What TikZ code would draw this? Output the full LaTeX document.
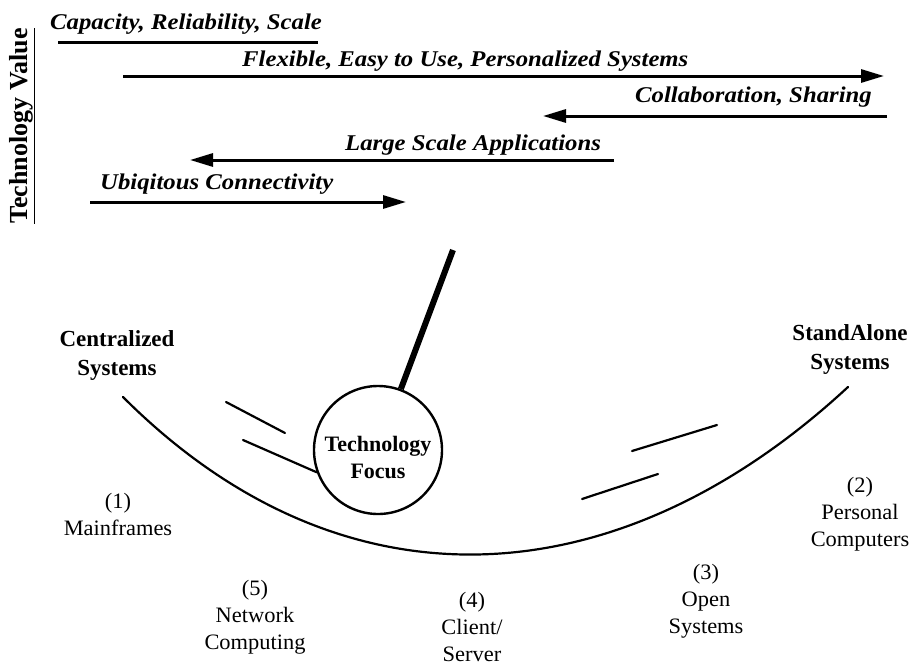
\documentclass[tikz,border=0pt]{standalone}
\usepackage{fontspec}
\setmainfont{Liberation Serif}
\newfontfamily\wideserif[FakeStretch=1.1]{Liberation Serif}
\newfontfamily\eraserif[FakeStretch=1.02]{Liberation Serif}
\usetikzlibrary{arrows.meta}
\begin{document}
\begin{tikzpicture}[x=1pt,y=-1pt,
  toplabel/.style={font=\wideserif\bfseries\itshape\fontsize{22.5}{27}\selectfont, inner sep=0pt},
  boldlabel/.style={font=\bfseries\fontsize{23}{29}\selectfont, align=center, inner sep=0pt},
  eralabel/.style={font=\eraserif\fontsize{22}{27}\selectfont, align=center, inner sep=0pt},
  focustext/.style={font=\bfseries\fontsize{22}{27}\selectfont, align=center, inner sep=0pt},
  trendline/.style={line width=3pt},
  trendarrow/.style={line width=3pt, -{Triangle[length=23pt,width=13pt]}},
  stroke/.style={line width=2.2pt, line cap=round},
]
\useasboundingbox (0,0) rectangle (913,667);

% vertical axis label
\node[rotate=90, font=\bfseries\fontsize{26}{30}\selectfont, inner sep=0pt] (tv) at (22,126) {\underline{Technology Value}};

% trend labels and arrows
\node[toplabel, anchor=base west] (cap) at (50,29) {Capacity, Reliability, Scale};
\coordinate (capL) at (58,42); \coordinate (capR) at (318,42);
\draw[trendline] (capL) -- (capR);

\node[toplabel, anchor=base west] (flex) at (242,66) {Flexible, Easy to Use, Personalized Systems};
\coordinate (flexL) at (123,76); \coordinate (flexR) at (884,76);
\draw[trendarrow] (flexL) -- (flexR);

\node[toplabel, anchor=base east] (coll) at (872,102) {Collaboration, Sharing};
\coordinate (collR) at (887,116); \coordinate (collL) at (543,116);
\draw[trendarrow] (collR) -- (collL);

\node[toplabel, anchor=base west] (large) at (345,150) {Large Scale Applications};
\coordinate (largeR) at (614,160); \coordinate (largeL) at (190,160);
\draw[trendarrow] (largeR) -- (largeL);

\node[toplabel, anchor=base west] (ubiq) at (100,189) {Ubiqitous Connectivity};
\coordinate (ubiqL) at (90,202); \coordinate (ubiqR) at (406,202);
\draw[trendarrow] (ubiqL) -- (ubiqR);

% technology focus (magnifier)
\node[circle, draw, line width=2.4pt, minimum size=128pt, inner sep=0pt] (focus) at (378,450) {};
\node[focustext] (focuslabel) at (378,457) {Technology\\Focus};
\coordinate (htop) at (453,250);
\draw[line width=6pt] (htop) -- (focus);

% motion strokes
\coordinate (la1) at (226,402); \coordinate (la2) at (285,433);
\coordinate (lb1) at (243,440);
\coordinate (ra1) at (632,451); \coordinate (ra2) at (717,425);
\coordinate (rb1) at (582,499); \coordinate (rb2) at (658,474);
\draw[stroke] (la1) -- (la2);
\draw[stroke] (lb1) -- (focus.200);
\draw[stroke] (ra1) -- (ra2);
\draw[stroke] (rb1) -- (rb2);

% the swing arc
\coordinate (arcL) at (123,397);
\coordinate (arcR) at (848,387);
\draw[stroke] (arcL) .. controls (343,617) and (618,600) .. (arcR);

% end labels
\node[boldlabel] (central) at (117,355) {Centralized\\Systems};
\node[boldlabel] (standalone) at (850,349) {StandAlone\\Systems};

% era labels
\node[eralabel] (era1) at (118,514) {(1)\\Mainframes};
\node[eralabel] (era2) at (860,514) {(2)\\Personal\\Computers};
\node[eralabel] (era3) at (706,601) {(3)\\Open\\Systems};
\node[eralabel] (era4) at (472,627) {(4)\\Client/\\Server};
\node[eralabel] (era5) at (255,617) {(5)\\Network\\Computing};
\end{tikzpicture}
\end{document}
